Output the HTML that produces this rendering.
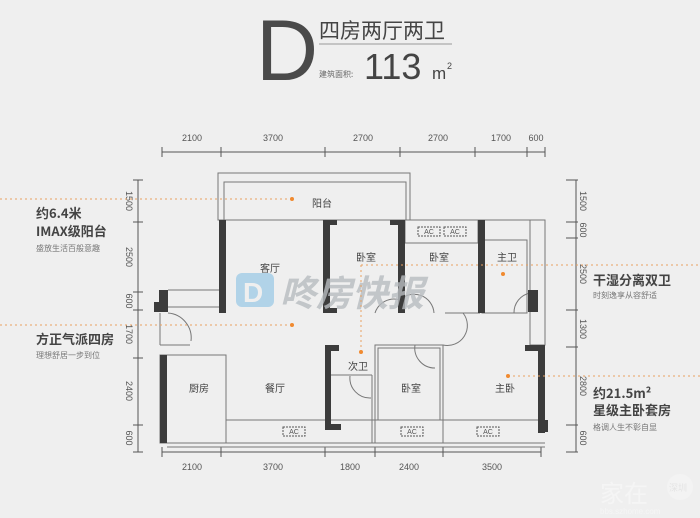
<!DOCTYPE html>
<html><head><meta charset="utf-8"><style>
html,body{margin:0;padding:0;background:#efefef;}
svg{display:block;font-family:"Liberation Sans","Noto Sans CJK SC",sans-serif;}
</style></head><body>
<svg width="700" height="518" viewBox="0 0 700 518" xmlns="http://www.w3.org/2000/svg">
<rect width="700" height="518" fill="#efefef"/>
<!-- header -->
<text x="256" y="80" font-size="86" fill="#4a4a4a" font-family="Liberation Sans,sans-serif">D</text>
<text x="319" y="38" font-size="21" fill="#444" font-family="Noto Sans CJK SC,sans-serif">四房两厅两卫</text>
<line x1="319" y1="44" x2="452" y2="44" stroke="#999" stroke-width="1"/>
<text x="319" y="77" font-size="8" fill="#666" font-family="Noto Sans CJK SC,sans-serif">建筑面积:</text>
<text x="364" y="79" font-size="36" fill="#444">113</text>
<text x="432" y="79" font-size="17" fill="#444">m</text>
<text x="447" y="69" font-size="9" fill="#444">2</text>

<!-- dims -->
<g stroke="#555" stroke-width="1" fill="none">
<line x1="162" y1="152" x2="545" y2="152"/>
<line x1="162" y1="147" x2="162" y2="157"/><line x1="221" y1="147" x2="221" y2="157"/><line x1="325" y1="147" x2="325" y2="157"/><line x1="400" y1="147" x2="400" y2="157"/><line x1="475" y1="147" x2="475" y2="157"/><line x1="527" y1="147" x2="527" y2="157"/><line x1="545" y1="147" x2="545" y2="157"/>
<line x1="162" y1="452" x2="541" y2="452"/>
<line x1="162" y1="447" x2="162" y2="457"/><line x1="221" y1="447" x2="221" y2="457"/><line x1="325" y1="447" x2="325" y2="457"/><line x1="375" y1="447" x2="375" y2="457"/><line x1="443" y1="447" x2="443" y2="457"/><line x1="541" y1="447" x2="541" y2="457"/>
<line x1="138" y1="180" x2="138" y2="452"/>
<line x1="133" y1="180" x2="143" y2="180"/><line x1="133" y1="222" x2="143" y2="222"/><line x1="133" y1="292" x2="143" y2="292"/><line x1="133" y1="310" x2="143" y2="310"/><line x1="133" y1="358" x2="143" y2="358"/><line x1="133" y1="425" x2="143" y2="425"/><line x1="133" y1="452" x2="143" y2="452"/>
<line x1="576" y1="180" x2="576" y2="452"/>
<line x1="566" y1="180" x2="578" y2="180"/><line x1="566" y1="222" x2="578" y2="222"/><line x1="566" y1="238" x2="578" y2="238"/><line x1="566" y1="310" x2="578" y2="310"/><line x1="566" y1="347" x2="578" y2="347"/><line x1="566" y1="425" x2="578" y2="425"/><line x1="566" y1="452" x2="578" y2="452"/>
</g>
<g font-size="9" fill="#555" text-anchor="middle">
<text x="192" y="141">2100</text><text x="273" y="141">3700</text><text x="363" y="141">2700</text><text x="438" y="141">2700</text><text x="501" y="141">1700</text><text x="536" y="141">600</text>
<text x="192" y="470">2100</text><text x="273" y="470">3700</text><text x="350" y="470">1800</text><text x="409" y="470">2400</text><text x="492" y="470">3500</text>
</g>
<g font-size="9" fill="#555" text-anchor="middle">
<text transform="translate(126,201) rotate(90)">1500</text>
<text transform="translate(126,257) rotate(90)">2500</text>
<text transform="translate(126,301) rotate(90)">600</text>
<text transform="translate(126,334) rotate(90)">1700</text>
<text transform="translate(126,391) rotate(90)">2400</text>
<text transform="translate(126,438) rotate(90)">600</text>
<text transform="translate(580,201) rotate(90)">1500</text>
<text transform="translate(580,230) rotate(90)">600</text>
<text transform="translate(580,274) rotate(90)">2500</text>
<text transform="translate(580,329) rotate(90)">1300</text>
<text transform="translate(580,386) rotate(90)">2800</text>
<text transform="translate(580,438) rotate(90)">600</text>
</g>

<!-- plan thin walls -->
<g stroke="#777" stroke-width="1" fill="none">
<rect x="218" y="173" width="192" height="47"/>
<rect x="224" y="182" width="182" height="38"/>
<line x1="218" y1="220" x2="545" y2="220"/>
<rect x="405" y="220" width="73" height="23"/>
<line x1="405" y1="243" x2="478" y2="243"/>
<rect x="482" y="240" width="45" height="73"/>
<line x1="527" y1="220" x2="545" y2="220"/>
<rect x="530" y="220" width="15" height="125"/>
<line x1="168" y1="290" x2="220" y2="290"/><line x1="168" y1="307" x2="220" y2="307"/>
<line x1="160" y1="313" x2="160" y2="345"/>
<line x1="160" y1="345" x2="190" y2="345"/>
<rect x="160" y="355" width="66" height="88"/>
<line x1="226" y1="420" x2="540" y2="420"/>
<line x1="167" y1="443" x2="545" y2="443"/>
<line x1="167" y1="447" x2="545" y2="447"/>
<rect x="375" y="345" width="68" height="98"/>
<rect x="378" y="348" width="62" height="72"/>
<line x1="443" y1="345" x2="443" y2="443"/>
<line x1="445" y1="313" x2="480" y2="313"/>
<line x1="330" y1="375" x2="372" y2="375"/>
<line x1="372" y1="375" x2="372" y2="443"/>
<path d="M168 313 A25 25 0 0 1 191 341"/>
<path d="M375 313 A20 20 0 0 1 400 300"/>
<path d="M400 300 A20 20 0 0 1 434 313"/>
<path d="M443 345 A20 20 0 0 0 463 313"/>
<path d="M514 313 A20 20 0 0 1 530 293"/>
<path d="M371 398 A20 20 0 0 1 350 376"/>
<path d="M415 345 A20 20 0 0 0 435 368"/>
</g>
<!-- thick walls -->
<g fill="#3c3c3c">
<rect x="219" y="220" width="7" height="93"/>
<rect x="323" y="220" width="7" height="93"/>
<rect x="323" y="220" width="14" height="5"/>
<rect x="323" y="308" width="14" height="5"/>
<rect x="398" y="220" width="7" height="93"/>
<rect x="390" y="220" width="15" height="5"/>
<rect x="478" y="220" width="7" height="93"/>
<rect x="528" y="290" width="10" height="22"/>
<rect x="538" y="345" width="7" height="88"/>
<rect x="525" y="345" width="20" height="6"/>
<rect x="540" y="420" width="8" height="12"/>
<rect x="159" y="290" width="9" height="22"/>
<rect x="154" y="302" width="8" height="10"/>
<rect x="160" y="355" width="7" height="88"/>
<rect x="325" y="345" width="6" height="85"/>
<rect x="325" y="345" width="14" height="6"/>
<rect x="325" y="424" width="16" height="6"/>
</g>
<!-- AC boxes -->
<g font-size="7" fill="#555" text-anchor="middle">
<rect x="418" y="227" width="22" height="9" fill="none" stroke="#555" stroke-dasharray="2,1"/><text x="429" y="234">AC</text>
<rect x="444" y="227" width="22" height="9" fill="none" stroke="#555" stroke-dasharray="2,1"/><text x="455" y="234">AC</text>
<rect x="283" y="427" width="22" height="9" fill="none" stroke="#555" stroke-dasharray="2,1"/><text x="294" y="434">AC</text>
<rect x="401" y="427" width="22" height="9" fill="none" stroke="#555" stroke-dasharray="2,1"/><text x="412" y="434">AC</text>
<rect x="477" y="427" width="22" height="9" fill="none" stroke="#555" stroke-dasharray="2,1"/><text x="488" y="434">AC</text>
</g>
<!-- room labels -->
<g font-size="10" fill="#444" text-anchor="middle" font-family="Noto Sans CJK SC,sans-serif">
<text x="322" y="207">阳台</text><text x="270" y="272">客厅</text><text x="366" y="261">卧室</text><text x="439" y="261">卧室</text><text x="507" y="261">主卫</text>
<text x="358" y="370">次卫</text><text x="199" y="392">厨房</text><text x="275" y="392">餐厅</text><text x="411" y="392">卧室</text><text x="505" y="392">主卧</text>
</g>
<!-- watermark -->
<rect x="236" y="273" width="38" height="34" rx="6" fill="#9cc9e6" opacity="0.75"/>
<text x="243" y="302" font-size="28" font-weight="bold" fill="#efefef">D</text>
<text x="280" y="306" font-size="36" font-style="italic" font-weight="bold" fill="#b8bcc0" opacity="0.8" font-family="Noto Sans CJK SC,sans-serif">咚房快报</text>
<!-- orange guides -->
<g stroke="#e8a060" stroke-width="1" stroke-dasharray="2,3" fill="none">
<line x1="0" y1="199" x2="292" y2="199"/>
<line x1="0" y1="325" x2="292" y2="325"/>
<line x1="361" y1="265" x2="700" y2="265"/>
<line x1="361" y1="265" x2="361" y2="352"/>
<line x1="508" y1="376" x2="700" y2="376"/>
</g>
<g fill="#f08a30"><circle cx="292" cy="199" r="2"/><circle cx="292" cy="325" r="2"/><circle cx="361" cy="352" r="2"/><circle cx="503" cy="274" r="2"/><circle cx="508" cy="376" r="2"/></g>
<!-- callouts -->
<g fill="#444" font-family="Noto Sans CJK SC,sans-serif">
<text x="36" y="218" font-size="13" font-weight="bold">约6.4米</text>
<text x="36" y="236" font-size="13" font-weight="bold">IMAX级阳台</text>
<text x="36" y="251" font-size="8" fill="#777">盛放生活百般意趣</text>
<text x="36" y="344" font-size="13" font-weight="bold">方正气派四房</text>
<text x="36" y="358" font-size="8" fill="#777">理想舒居一步到位</text>
<text x="593" y="285" font-size="13" font-weight="bold">干湿分离双卫</text>
<text x="593" y="298" font-size="8" fill="#777">时刻逸享从容舒适</text>
<text x="593" y="398" font-size="13" font-weight="bold">约21.5m²</text>
<text x="593" y="415" font-size="13" font-weight="bold">星级主卧套房</text>
<text x="593" y="430" font-size="8" fill="#777">格调人生不彰自显</text>
</g>
<!-- corner watermark -->
<g opacity="0.6">
<text x="600" y="502" font-size="24" fill="#fafafa" font-family="Noto Sans CJK SC,sans-serif">家在</text>
<circle cx="680" cy="487" r="13" fill="#f6f6f6"/>
<text x="669" y="491" font-size="9" fill="#ddd" font-family="Noto Sans CJK SC,sans-serif">深圳</text>
<text x="600" y="514" font-size="8" fill="#fafafa">bbs.szhome.com</text>
</g>
</svg>
</body></html>
